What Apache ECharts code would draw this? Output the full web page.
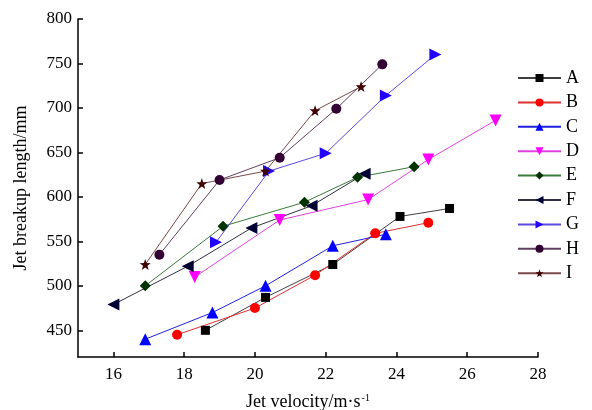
<!DOCTYPE html>
<html>
<head>
<meta charset="utf-8">
<script src="https://cdn.jsdelivr.net/npm/echarts@6/dist/echarts.min.js"></script>
<style>
  html, body { margin: 0; padding: 0; background: #fff; }
  #chart { width: 592px; height: 410px; }
</style>
</head>
<body>
<div id="chart"></div>
<script>
// series names, as in the legend
const seriesNames = ['A', 'B', 'C', 'D', 'E', 'F', 'G', 'H', 'I']
// jet velocity (m/s), one row per series
const velocity = [
  [18.6, 20.3, 22.2, 24.1, 25.5],
  [17.8, 20.0, 21.7, 23.4, 24.9],
  [16.9, 18.8, 20.3, 22.2, 23.7],
  [18.3, 20.7, 23.2, 24.9, 26.8],
  [16.9, 19.1, 21.4, 22.9, 24.5],
  [16.0, 18.1, 19.9, 21.6, 23.1],
  [18.9, 20.4, 22.0, 23.7, 25.1],
  [17.3, 19.0, 20.7, 22.3, 23.6],
  [16.9, 18.5, 20.3, 21.7, 23.0]
]
// jet breakup length (mm), same order
const breakupLength = [
  [450, 487, 524, 578, 587],
  [445, 475, 512, 559, 571],
  [440, 470, 500, 545, 558],
  [510, 574, 597, 642, 686],
  [500, 567, 594, 622, 634],
  [479, 522, 565, 590, 626],
  [549, 629, 649, 714, 760],
  [535, 619, 644, 699, 749],
  [524, 615, 629, 697, 724]
]

const markerColors = ['#000000', '#ff0000', '#0000ff', '#ff00ff', '#003300', '#000033', '#2200ff', '#330033', '#400000']
const lineColors = ['#404040', '#e03030', '#2020e0', '#e040e0', '#3a7a3a', '#303040', '#5a4ae0', '#604060', '#7a4a4a']
const starPath = 'path://M0,-10L2.35,-3.24L9.51,-3.09L3.8,1.24L5.88,8.09L0,4L-5.88,8.09L-3.8,1.24L-9.51,-3.09L-2.35,-3.24Z'
const symbols = ['rect', 'circle', 'triangle', 'triangle', 'diamond', 'triangle', 'triangle', 'circle', starPath]
const rotations = [0, 0, 0, 180, 0, 90, -90, 0, 0]
const sizes = [9, 10, 12, 12, 11, 12, 12, 10, 11]

const font = '"Liberation Serif", "Times New Roman", serif'

const chart = echarts.init(document.getElementById('chart'), null, { renderer: 'canvas' })

const series = seriesNames.map((name, i) => {
  return {
    name,
    type: 'line',
    data: velocity[i].map((v, j) => [v, breakupLength[i][j]]),
    symbol: symbols[i],
    symbolSize: sizes[i],
    symbolRotate: rotations[i],
    showAllSymbol: true,
    lineStyle: { color: lineColors[i], width: 1 },
    itemStyle: { color: markerColors[i] },
    emphasis: { disabled: true },
    animation: false
  }
})

const option = {
  animation: false,
  textStyle: { fontFamily: font },
  grid: { left: 78, right: 54, top: 19, bottom: 53, containLabel: false, outerBoundsMode: 'none' },
  legend: {
    orient: 'vertical',
    left: 517,
    top: 69,
    padding: 0,
    itemWidth: 43,
    itemHeight: 10,
    itemGap: 6.4,
    data: seriesNames,
    textStyle: { fontFamily: font, fontSize: 18, color: '#000', lineHeight: 17 }
  },
  xAxis: {
    type: 'value',
    min: 15,
    max: 28,
    minInterval: 2,
    maxInterval: 2,
    name: '{t|Jet velocity/m·s}{s|-1}',
    nameLocation: 'middle',
    nameGap: 36,
    nameTextStyle: {
      rich: {
        t: { fontFamily: font, fontSize: 18, color: '#000' },
        s: { fontFamily: font, fontSize: 10, color: '#000', verticalAlign: 'top', padding: [0, 0, 8, 1] }
      }
    },
    splitLine: { show: false },
    axisLine: { onZero: false, lineStyle: { color: '#000', width: 1.5 } },
    axisTick: { inside: true, length: 5, lineStyle: { color: '#000', width: 1.5 } },
    axisLabel: { showMinLabel: false, color: '#000', fontSize: 17, fontFamily: font, margin: 9 }
  },
  yAxis: {
    type: 'value',
    min: 420,
    max: 800,
    minInterval: 50,
    maxInterval: 50,
    name: 'Jet breakup length/mm',
    nameLocation: 'middle',
    nameGap: 48,
    nameTextStyle: { fontFamily: font, fontSize: 18, color: '#000' },
    splitLine: { show: false },
    axisLine: { onZero: false, lineStyle: { color: '#000', width: 1.5 } },
    axisTick: { inside: true, length: 5, lineStyle: { color: '#000', width: 1.5 } },
    axisLabel: { showMinLabel: false, color: '#000', fontSize: 17, fontFamily: font, margin: 6 }
  },
  series
}

chart.setOption(option)
</script>
</body>
</html>
